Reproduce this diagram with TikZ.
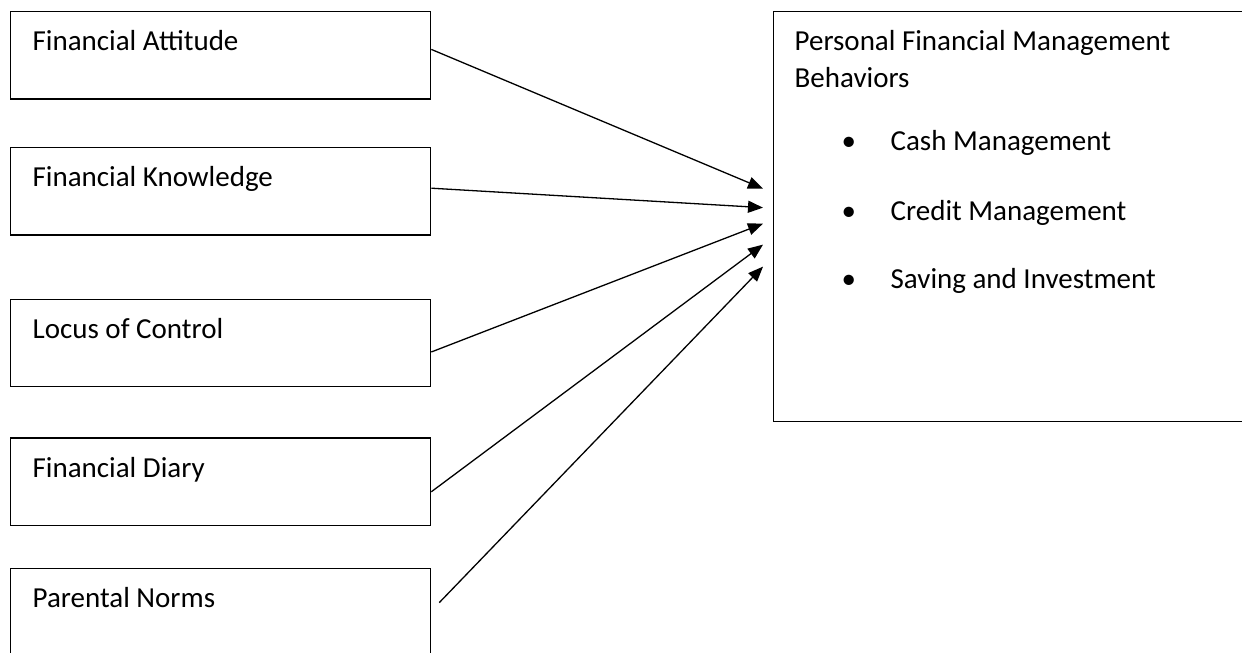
\documentclass[tikz,border=0pt]{standalone}
\usepackage{fontspec}
\setmainfont{Carlito}
\usepackage{tikz}
\usetikzlibrary{arrows.meta,positioning}

\begin{document}
\begin{tikzpicture}[x=1pt, y=1pt, node distance=48pt]
    % Define styles
    \tikzstyle{factor} = [rectangle, draw, line width=1.3pt, text width=376pt, inner xsep=22pt, inner ysep=0pt, text height=39pt, text depth=48.5pt, font=\fontsize{29}{37}\selectfont, execute at begin node={\spaceskip=0pt\xspaceskip=0pt\relax}]
    \tikzstyle{outcome} = [rectangle, draw, line width=1.3pt, inner xsep=21pt, inner ysep=0pt, anchor=north west, font=\fontsize{29}{37}\selectfont]
    \tikzstyle{arrow} = [line width=1.3pt, -{Triangle[length=15pt,width=12pt]}]

    \useasboundingbox (0,0) rectangle (1242,653);

    % Nodes
    \node [factor, anchor=north west] (attitude) at (10,642) {Financial Attitude};
    \node [factor, below=47pt of attitude] (knowledge) {Financial Knowledge};
    \node [factor, below=63pt of knowledge] (locus) {Locus of Control};
    \node [factor, below=50pt of locus] (diary) {Financial Diary};
    \node [factor, below=42pt of diary] (norms) {Parental Norms};

    \node [outcome] (behav) at (773,642) {\raisebox{0pt}[39pt][371pt]{\parbox[t]{456pt}{%
        Personal Financial Management\\
        Behaviors\\[26pt]
        \hspace*{47pt}\makebox[49pt][l]{\textbullet}Cash Management\\[33pt]
        \hspace*{47pt}\makebox[49pt][l]{\textbullet}Credit Management\\[31pt]
        \hspace*{47pt}\makebox[49pt][l]{\textbullet}Saving and Investment}}};

    % Arrows
    \draw [arrow] ([yshift=6pt]attitude.east) -- ([xshift=-10pt,yshift=28pt]behav.west);
    \draw [arrow] ([yshift=3pt]knowledge.east) -- ([xshift=-10pt,yshift=9pt]behav.west);
    \draw [arrow] ([yshift=-9pt]locus.east) -- ([xshift=-10pt,yshift=-7pt]behav.west);
    \draw [arrow] ([yshift=-10pt]diary.east) -- ([xshift=-10pt,yshift=-28pt]behav.west);
    \draw [arrow] ([xshift=8pt,yshift=10pt]norms.east) -- ([xshift=-10pt,yshift=-50pt]behav.west);
\end{tikzpicture}
\end{document}
